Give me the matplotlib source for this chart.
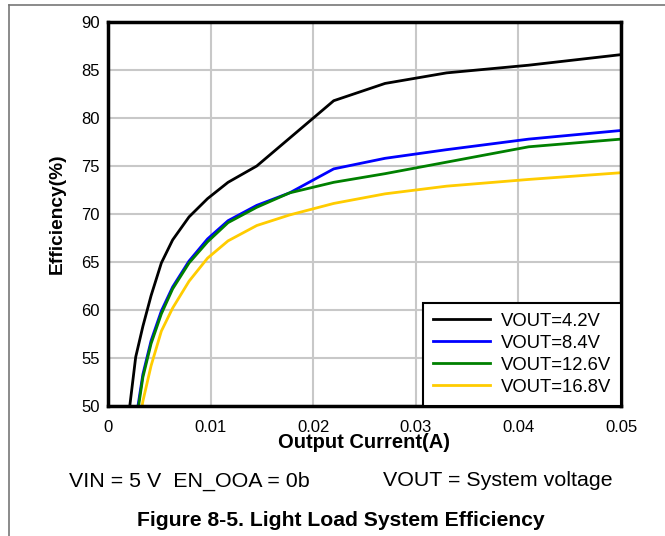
import matplotlib.pyplot as plt
from matplotlib.lines import Line2D

plt.rcParams['font.family'] = ['Liberation Sans', 'DejaVu Sans']

# Output current (A), shared by all curves
current = [0.0021, 0.0027, 0.0034, 0.0042, 0.0052, 0.0063, 0.0079, 0.0097,
           0.0117, 0.0145, 0.0177, 0.022, 0.027, 0.033, 0.041, 0.05]

# Efficiency (%) per output voltage
eff_4v2 = [49.8, 55.1, 58.3, 61.5, 64.9, 67.3, 69.7, 71.6,
           73.3, 75.0, 77.9, 81.8, 83.6, 84.7, 85.5, 86.6]
eff_8v4 = [44.0, 48.5, 53.3, 56.8, 59.9, 62.4, 65.1, 67.4,
           69.3, 70.9, 72.2, 74.7, 75.8, 76.7, 77.8, 78.7]
eff_12v6 = [43.5, 48.0, 53.0, 56.5, 59.6, 62.2, 64.9, 67.1,
            69.1, 70.7, 72.2, 73.3, 74.2, 75.4, 77.0, 77.8]
eff_16v8 = [40.0, 46.0, 50.5, 54.2, 57.8, 60.2, 63.0, 65.4,
            67.2, 68.8, 69.9, 71.1, 72.1, 72.9, 73.6, 74.3]

labels = ['VOUT=4.2V', 'VOUT=8.4V', 'VOUT=12.6V', 'VOUT=16.8V']
colors = ['#000000', '#0000ff', '#008000', '#ffcc00']

x_ticks = [0, 0.01, 0.02, 0.03, 0.04, 0.05]
x_ticklabels = ['0', '0.01', '0.02', '0.03', '0.04', '0.05']
y_ticks = [50, 55, 60, 65, 70, 75, 80, 85, 90]

fig = plt.figure(figsize=(6.65, 5.36), dpi=100)
ax = fig.add_axes([108 / 665, 1 - 406 / 536, 513 / 665, 384 / 536])

for ys, lab, col in zip([eff_4v2, eff_8v4, eff_12v6, eff_16v8], labels, colors):
    ax.plot(current, ys, color=col, lw=2, label=lab, zorder=3)

ax.set_xlim(0, 0.05)
ax.set_ylim(50, 90)
ax.set_xticks(x_ticks)
ax.set_xticklabels(x_ticklabels)
ax.set_yticks(y_ticks)
ax.tick_params(length=0, labelsize=12)
ax.tick_params(axis='x', pad=10)
ax.tick_params(axis='y', pad=6)
ax.grid(True, color='#c8c8c8', lw=1.5, zorder=0)
for s in ax.spines.values():
    s.set_linewidth(2.5)
    s.set_zorder(4)

ax.set_xlabel('Output Current(A)', fontsize=14.5, fontweight='bold', labelpad=-1)
ax.set_ylabel('Efficiency(%)', fontsize=13.8, fontweight='bold', labelpad=11)

leg = ax.legend(loc='lower right', borderaxespad=0, fontsize=13.3, fancybox=False,
                framealpha=1, edgecolor='black', handlelength=3.1,
                labelspacing=0.27, borderpad=0.55, handletextpad=0.55)
leg.get_frame().set_linewidth(1.5)
leg.set_zorder(5)

fig.text(69 / 665, 1 - 481 / 536, 'VIN = 5 V  EN_OOA = 0b', fontsize=15.4, va='center')
fig.text(383 / 665, 1 - 481 / 536, 'VOUT = System voltage', fontsize=15.4, va='center')
fig.text(341 / 665, 1 - 520 / 536, 'Figure 8-5. Light Load System Efficiency',
         fontsize=15.2, fontweight='bold', ha='center', va='center')

# outer frame lines
fig.add_artist(Line2D([9 / 665, 1], [1 - 5 / 536, 1 - 5 / 536], color='#777777', lw=1.2))
fig.add_artist(Line2D([9 / 665, 9 / 665], [0, 1 - 5 / 536], color='#777777', lw=1.2))

fig.savefig('out.png', dpi=100)
